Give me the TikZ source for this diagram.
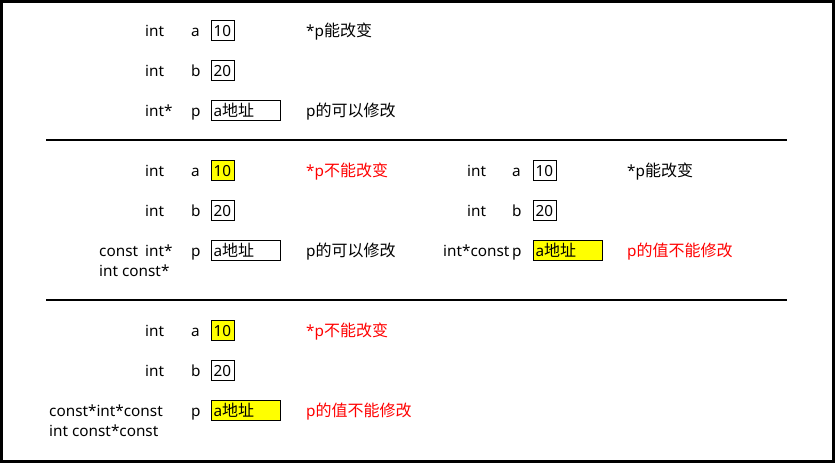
\documentclass[tikz,border=0pt]{standalone}
\usepackage{fontspec}
\setmainfont{Noto Sans}
\newfontfamily\cjk[Scale=1.046]{Noto Sans CJK SC}
\newcommand{\zh}[1]{{\cjk #1}}
\definecolor{warnred}{RGB}{255,0,0}
\definecolor{hlyellow}{RGB}{255,255,0}
\begin{document}
\begin{tikzpicture}[x=1pt,y=-1pt,font=\fontsize{15.3}{18}\selectfont,
  lbl/.style={anchor=base west,inner sep=0pt},
  vbox/.style={draw,line width=1pt,anchor=west,inner xsep=2pt,inner ysep=0pt,
    minimum height=20pt,text height=13pt,text depth=0pt,align=left},
  numbox/.style={vbox,text width=19pt},
  addrbox/.style={vbox,text width=65pt},
  hl/.style={fill=hlyellow},
  warn/.style={text=warnred},
  sep/.style={line width=1.3pt}]
\useasboundingbox (0,0) rectangle (835,463);
\draw[line width=2.7pt] (1.35,1.35) rectangle (833.65,461.65);
% separators
\coordinate (s1l) at (46,140); \coordinate (s1r) at (787,140);
\coordinate (s2l) at (46,300); \coordinate (s2r) at (787,300);
\draw[sep] (s1l) -- (s1r);
\draw[sep] (s2l) -- (s2r);
% ---------- section 1
\node[lbl] (t1a) at (145,36.5) {int};
\node[lbl] (n1a) at (191,36.5) {a};
\node[numbox] (b1a) at (211,30) {10};
\node[lbl] (c1a) at (306,36.5) {*p\zh{能改变}};
\node[lbl] (t1b) at (145,76.5) {int};
\node[lbl] (n1b) at (191,76.5) {b};
\node[numbox] (b1b) at (211,70) {20};
\node[lbl] (t1p) at (145,116.5) {int*};
\node[lbl] (n1p) at (191,116.5) {p};
\node[addrbox] (b1p) at (211,110) {a\zh{地址}};
\node[lbl] (c1p) at (306,116.5) {p\zh{的可以修改}};
% ---------- section 2 left
\node[lbl] (t2a) at (145,176.5) {int};
\node[lbl] (n2a) at (191,176.5) {a};
\node[numbox,hl] (b2a) at (211,170) {10};
\node[lbl,warn] (c2a) at (306,176.5) {*p\zh{不能改变}};
\node[lbl] (t2b) at (145,216.5) {int};
\node[lbl] (n2b) at (191,216.5) {b};
\node[numbox] (b2b) at (211,210) {20};
\node[lbl] (k2p) at (99,256.5) {const};
\node[lbl] (t2p) at (145,256.5) {int*};
\node[lbl] (u2p) at (99,276.5) {int const*};
\node[lbl] (n2p) at (191,256.5) {p};
\node[addrbox] (b2p) at (211,250) {a\zh{地址}};
\node[lbl] (c2p) at (306,256.5) {p\zh{的可以修改}};
% ---------- section 2 right
\node[lbl] (t3a) at (467,176.5) {int};
\node[lbl] (n3a) at (512,176.5) {a};
\node[numbox] (b3a) at (533,170) {10};
\node[lbl] (c3a) at (627,176.5) {*p\zh{能改变}};
\node[lbl] (t3b) at (467,216.5) {int};
\node[lbl] (n3b) at (512,216.5) {b};
\node[numbox] (b3b) at (533,210) {20};
\node[lbl] (t3p) at (443,256.5) {int*const};
\node[lbl] (n3p) at (512,256.5) {p};
\node[addrbox,hl] (b3p) at (533,250) {a\zh{地址}};
\node[lbl,warn] (c3p) at (627,256.5) {p\zh{的值不能修改}};
% ---------- section 3
\node[lbl] (t4a) at (145,336.5) {int};
\node[lbl] (n4a) at (191,336.5) {a};
\node[numbox,hl] (b4a) at (211,330) {10};
\node[lbl,warn] (c4a) at (306,336.5) {*p\zh{不能改变}};
\node[lbl] (t4b) at (145,376.5) {int};
\node[lbl] (n4b) at (191,376.5) {b};
\node[numbox] (b4b) at (211,370) {20};
\node[lbl] (t4p) at (49,416.5) {const*int*const};
\node[lbl] (u4p) at (49,436.5) {int const*const};
\node[lbl] (n4p) at (191,416.5) {p};
\node[addrbox,hl] (b4p) at (211,410) {a\zh{地址}};
\node[lbl,warn] (c4p) at (306,416.5) {p\zh{的值不能修改}};
\end{tikzpicture}
\end{document}
